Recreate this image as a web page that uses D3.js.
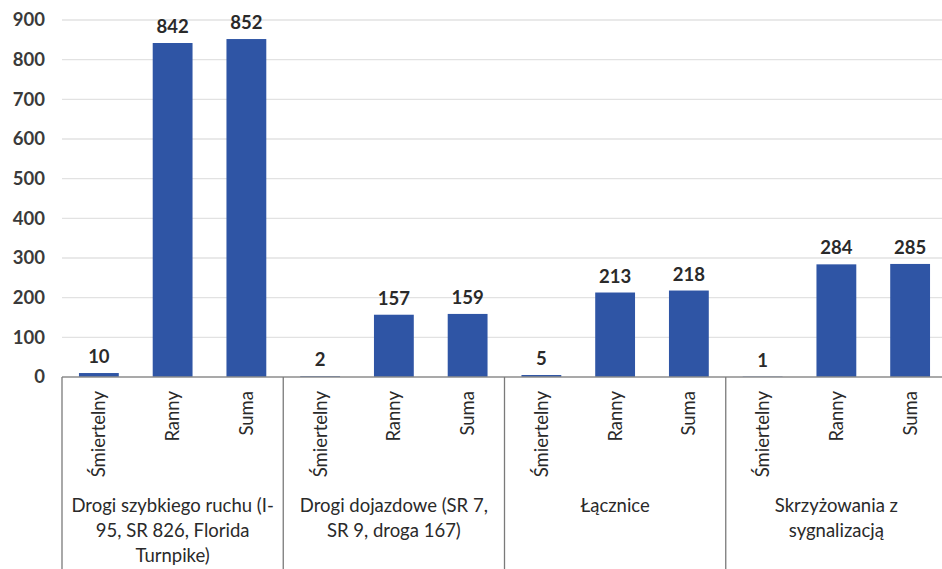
<!DOCTYPE html>
<html>
<head>
<meta charset="utf-8">
<script src="https://cdn.jsdelivr.net/npm/d3@7"></script>
<style>
  html, body { margin: 0; padding: 0; background: #fff; }
  svg { display: block; }
  text { font-family: "Lato", "Open Sans", sans-serif; }
</style>
</head>
<body>
<script>
// Data
const groups = [
  ["Drogi szybkiego ruchu (I-", "95, SR 826, Florida", "Turnpike)"],
  ["Drogi dojazdowe (SR 7,", "SR 9, droga 167)"],
  ["Łącznice"],
  ["Skrzyżowania z", "sygnalizacją"]
];
const subCategories = ["Śmiertelny", "Ranny", "Suma"];
const smiertelny = [10, 2, 5, 1];
const ranny = [842, 157, 213, 284];
const suma = [852, 159, 218, 285];
const yTicks = [0, 100, 200, 300, 400, 500, 600, 700, 800, 900];

const W = 942, H = 569;
const plotLeft = 62, plotRight = 947, plotTop = 20, plotBase = 377;
const fs = 18.5;

const svg = d3.select("body").append("svg").attr("width", W).attr("height", H);

const rows = [];
groups.forEach((g, gi) => {
  [smiertelny, ranny, suma].forEach((arr, si) => {
    rows.push({ key: gi + "-" + si, group: gi, sub: subCategories[si], value: arr[gi] });
  });
});

const x = d3.scaleBand().domain(rows.map(d => d.key)).range([plotLeft, plotRight]).paddingInner(0.46).paddingOuter(0.23);
const xg = d3.scaleBand().domain(groups.map((g, i) => i)).range([plotLeft, plotRight]);
const y = d3.scaleLinear().domain([0, 900]).range([plotBase, plotTop]);

// gridlines
svg.append("g").selectAll("line").data(yTicks.filter(t => t > 0)).join("line")
  .attr("x1", plotLeft).attr("x2", W)
  .attr("y1", d => y(d)).attr("y2", d => y(d))
  .attr("stroke", "#e2e2e2").attr("stroke-width", 1.3);

// y axis labels
const yAxis = d3.axisLeft(y).tickValues(yTicks).tickSize(0).tickPadding(0);
const ga = svg.append("g").attr("transform", `translate(45,0)`).call(yAxis);
ga.select(".domain").remove();
ga.selectAll("text").attr("font-size", fs).attr("font-weight", "bold").attr("fill", "#3a3a3a")
  .attr("font-family", "Lato, sans-serif");

// bars
svg.append("g").selectAll("rect").data(rows).join("rect")
  .attr("x", d => x(d.key)).attr("width", x.bandwidth())
  .attr("y", d => y(d.value)).attr("height", d => plotBase - y(d.value))
  .attr("fill", "#2f55a5");

// value labels
svg.append("g").selectAll("text").data(rows).join("text")
  .attr("x", d => x(d.key) + x.bandwidth() / 2)
  .attr("y", d => y(d.value) - 10)
  .attr("text-anchor", "middle").attr("font-size", fs).attr("font-weight", "bold")
  .attr("fill", "#2a2a2a").text(d => d.value);

// category axis line
svg.append("line").attr("x1", plotLeft).attr("x2", W).attr("y1", plotBase).attr("y2", plotBase)
  .attr("stroke", "#8c8c8c").attr("stroke-width", 1.3);

// group separators
svg.append("g").selectAll("line").data(groups.map((g, i) => i)).join("line")
  .attr("x1", d => xg(d)).attr("x2", d => xg(d))
  .attr("y1", plotBase).attr("y2", H)
  .attr("stroke", "#7a7a7a").attr("stroke-width", 1.3);

// rotated sub-category labels
svg.append("g").selectAll("text").data(rows).join("text")
  .attr("transform", d => `translate(${x(d.key) + x.bandwidth() / 2 + 6.5},391) rotate(-90)`)
  .attr("text-anchor", "end").attr("font-size", fs).attr("fill", "#2a2a2a")
  .text(d => d.sub);

// group labels
const gl = svg.append("g").selectAll("text").data(groups).join("text")
  .attr("text-anchor", "middle").attr("font-size", fs).attr("fill", "#2a2a2a");
gl.selectAll("tspan").data((d, i) => d.map(line => ({ line, i }))).join("tspan")
  .attr("x", d => xg(d.i) + xg.bandwidth() / 2)
  .attr("y", (d, j) => 512 + j * 25)
  .text(d => d.line);
</script>
</body>
</html>
